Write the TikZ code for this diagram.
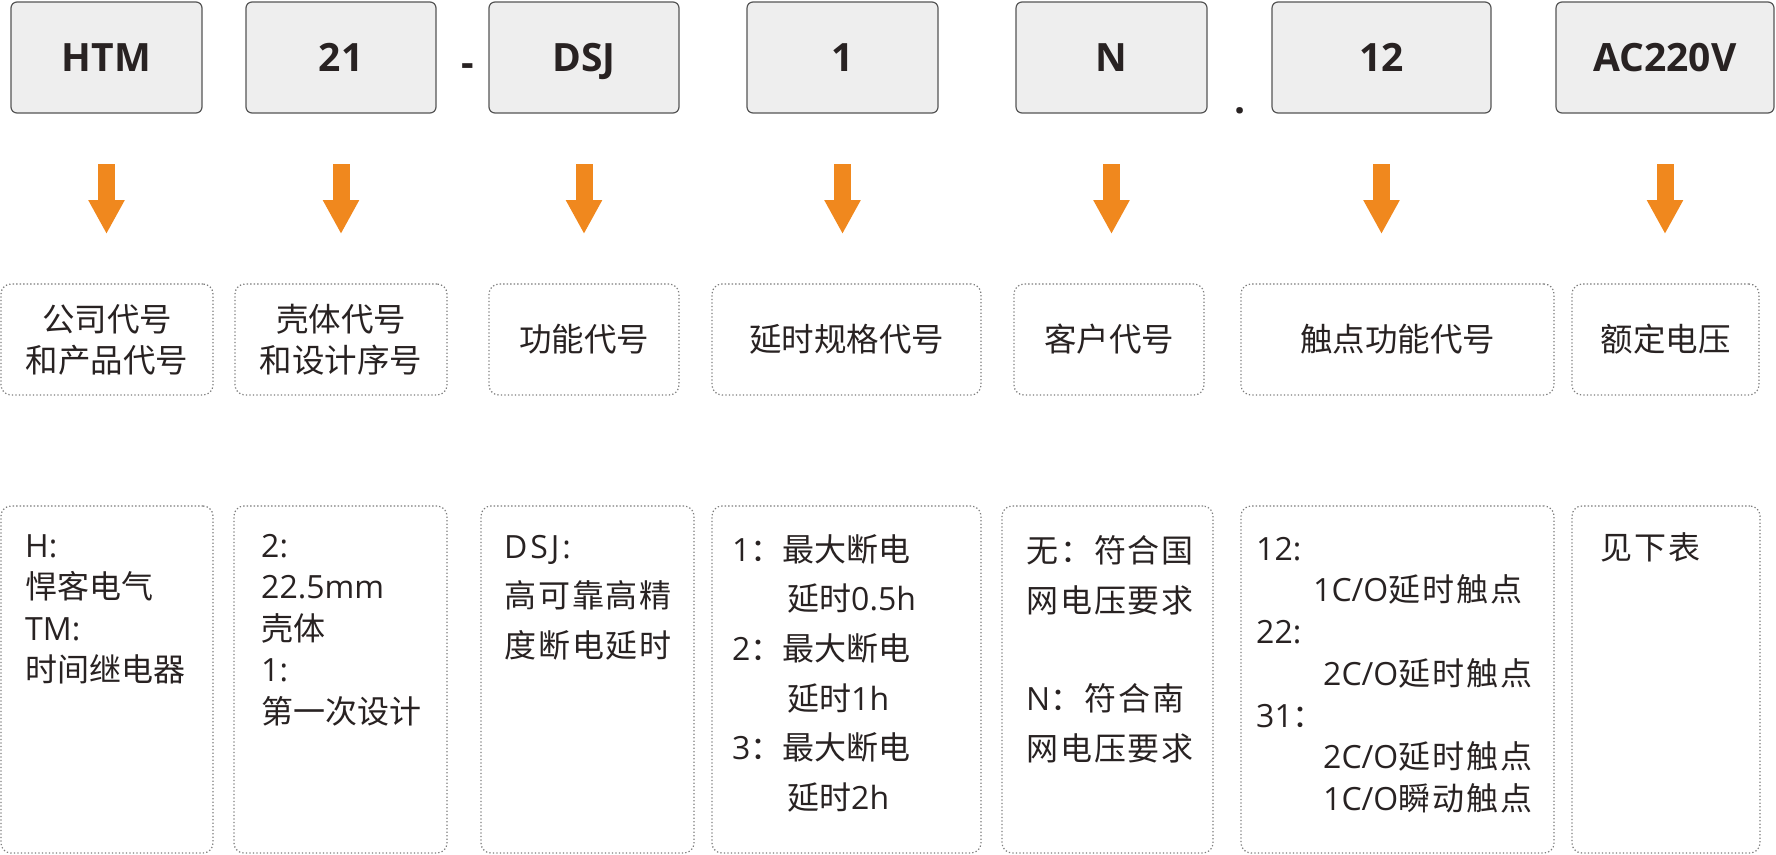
\documentclass[tikz,border=0pt]{standalone}
\usepackage{fontspec}
\setmainfont{Open Sans}
\newfontfamily\cjk{Noto Sans CJK SC}
\newfontfamily\cjkw{Noto Sans CJK SC}[LetterSpace=6]
\newfontfamily\widelatin{Open Sans}[LetterSpace=9]
\usetikzlibrary{arrows.meta}
\definecolor{codefill}{RGB}{238,238,238}
\definecolor{codeline}{RGB}{85,85,85}
\definecolor{dotline}{RGB}{125,125,125}
\definecolor{arrorange}{RGB}{240,136,30}
\definecolor{inktext}{RGB}{40,34,34}
\newcommand{\topstrut}{\rule{0pt}{30pt}}

\begin{document}
\begin{tikzpicture}[x=1pt, y=-1pt,
    codebox/.style={draw=codeline, fill=codefill, rounded corners=6pt, line width=1.2pt,
      minimum height=111pt, inner sep=0pt, outer sep=0pt, text=inktext, text height=28pt, text depth=0pt,
      font=\bfseries\fontsize{39}{44}\selectfont},
    codesep/.style={inner sep=0pt, text=inktext, font=\bfseries\fontsize{39}{44}\selectfont},
    dotbox/.style={draw=dotline, rounded corners=10pt, line width=1.2pt, dash pattern=on 1.3pt off 2.2pt,
      inner sep=0pt, outer sep=0pt, align=center, text=inktext, font=\cjk\fontsize{32.5}{41}\selectfont},
    desc/.style={anchor=north west, inner sep=0pt, align=left, text=inktext},
    downarrow/.style={draw=arrorange, line width=17pt, -{Triangle[width=34pt,length=34pt]},
      shorten <=51pt, shorten >=50pt}]
  \useasboundingbox (0,0) rectangle (1776,854);

  \node[codebox, minimum width=191pt] (t1) at (106.5,57.5) {HTM};
  \node[codebox, minimum width=190pt] (t2) at (341,57.5) {21};
  \node[codebox, minimum width=190pt] (t3) at (584,57.5) {DSJ};
  \node[codebox, minimum width=191pt] (t4) at (842.5,57.5) {1};
  \node[codebox, minimum width=191pt] (t5) at (1111.5,57.5) {N};
  \node[codebox, minimum width=219pt] (t6) at (1381.5,57.5) {12};
  \node[codebox, minimum width=218pt] (t7) at (1665,57.5) {AC220V};
  \node[codesep, anchor=base] (dash) at (468,76) {-};
  \node[codesep, anchor=base] (dot) at (1240,113) {.};

  \node[dotbox, minimum width=212pt, minimum height=111pt] (m1) at (107,339.5) {公司代号\\和产品代号};
  \node[dotbox, minimum width=212pt, minimum height=111pt] (m2) at (341,339.5) {壳体代号\\和设计序号};
  \node[dotbox, minimum width=190pt, minimum height=111pt] (m3) at (584,339.5) {功能代号};
  \node[dotbox, minimum width=269pt, minimum height=111pt] (m4) at (846.5,339.5) {延时规格代号};
  \node[dotbox, minimum width=190pt, minimum height=111pt] (m5) at (1109,339.5) {客户代号};
  \node[dotbox, minimum width=313pt, minimum height=111pt] (m6) at (1397.5,339.5) {触点功能代号};
  \node[dotbox, minimum width=187pt, minimum height=111pt] (m7) at (1665.5,339.5) {额定电压};

  \draw[downarrow] (t1.south) -- (t1.south |- m1.north);
  \draw[downarrow] (t2.south) -- (t2.south |- m2.north);
  \draw[downarrow] (t3.south) -- (t3.south |- m3.north);
  \draw[downarrow] (t4.south) -- (t4.south |- m4.north);
  \draw[downarrow] (t5.south) -- (t5.south |- m5.north);
  \draw[downarrow] (t6.south) -- (t6.south |- m6.north);
  \draw[downarrow] (t7.south) -- (t7.south |- m7.north);

  \node[dotbox, minimum width=212pt, minimum height=347pt] (b1) at (107,679.5) {};
  \node[dotbox, minimum width=213pt, minimum height=347pt] (b2) at (340.5,679.5) {};
  \node[dotbox, minimum width=213pt, minimum height=347pt] (b3) at (587.5,679.5) {};
  \node[dotbox, minimum width=269pt, minimum height=347pt] (b4) at (846.5,679.5) {};
  \node[dotbox, minimum width=211pt, minimum height=347pt] (b5) at (1107.5,679.5) {};
  \node[dotbox, minimum width=313pt, minimum height=347pt] (b6) at (1397.5,679.5) {};
  \node[dotbox, minimum width=188pt, minimum height=347pt] (b7) at (1666,679.5) {};

  \node[desc, font=\fontsize{32}{41.5}\selectfont] (d1) at (25,527)
    {\topstrut H:\\{\cjk 悍客电气}\\TM:\\{\cjk 时间继电器}};
  \node[desc, font=\fontsize{32}{41.5}\selectfont] (d2) at (261,527)
    {\topstrut 2:\\22.5mm\\{\cjk 壳体}\\1:\\{\cjk 第一次设计}};
  \node[desc, font=\fontsize{32}{49.5}\selectfont] (d3) at (504,528)
    {\topstrut {\widelatin DSJ:}\\{\cjkw 高可靠高精}\\{\cjkw 度断电延时}};
  \node[desc, font=\fontsize{32}{49.6}\selectfont] (d4) at (732,531)
    {\topstrut 1{\cjk ：最大断电}\\\hspace*{55pt}{\cjk 延时}0.5h\\2{\cjk ：最大断电}\\\hspace*{55pt}{\cjk 延时}1h\\3{\cjk ：最大断电}\\\hspace*{55pt}{\cjk 延时}2h};
  \node[desc, font=\fontsize{32}{50}\selectfont] (d5) at (1026,532)
    {\topstrut {\cjkw 无：符合国}\\{\cjkw 网电压要求}\\[48pt]N{\cjkw ：符合南}\\{\cjkw 网电压要求}};
  \node[desc, font=\fontsize{32}{41.7}\selectfont] (d6) at (1256,530)
    {\topstrut 12:\\\hspace*{57pt}1C/O{\cjkw 延时触点}\\22:\\\hspace*{67pt}2C/O{\cjkw 延时触点}\\31{\cjk ：}\\\hspace*{67pt}2C/O{\cjkw 延时触点}\\\hspace*{67pt}1C/O{\cjkw 瞬动触点}};
  \node[desc, font=\fontsize{32}{41.5}\selectfont] (d7) at (1600,529)
    {\topstrut {\cjkw 见下表}};
\end{tikzpicture}
\end{document}
